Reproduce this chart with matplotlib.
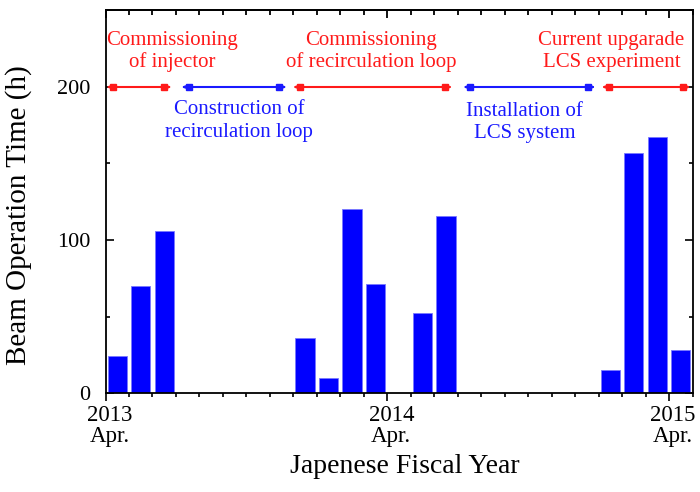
import matplotlib
matplotlib.use("Agg")
import matplotlib.pyplot as plt
from matplotlib.transforms import ScaledTranslation
import numpy as np

# Monthly beam operation time, starting April 2013 (month index 0)
month_index = list(range(25))
beam_hours = [24, 70, 106, 0, 0, 0, 0, 0, 36, 10, 120, 71,
              0, 52, 116, 0, 0, 0, 0, 0, 0, 15, 157, 167, 28]

tick_months = [0, 12, 24]
tick_labels = ["2013\nApr.", "2014\nApr.", "2015\nApr."]

# Project phases (month index spans) and their captions
phase_start = [0.0, 3.2, 7.95, 15.2, 21.1]
phase_end = [2.85, 7.75, 14.8, 20.9, 24.95]
phase_text = ["Commissioning\nof injector",
              "Construction of\nrecirculation loop",
              "Commissioning\nof recirculation loop",
              "Installation of\nLCS system",
              "Current upgarade\nLCS experiment"]
phase_level = 200

phase_colors = ["#ff1a1a", "#1a1aff", "#ff1a1a", "#1a1aff", "#ff1a1a"]
caption_x = [2.85, 5.7, 11.3, 17.85, 21.55]
caption_y = [(227.5, 213.3), (182.4, 167.3), (227.5, 213.3),
             (181.0, 166.5), (227.5, 213.3)]

plt.rcParams["font.family"] = ["Liberation Serif", "DejaVu Serif"]

fig = plt.figure(figsize=(7.0, 4.92), dpi=100)
ax = fig.add_axes([105.5 / 700, (492 - 393) / 492, 587 / 700, 382.5 / 492])

x = np.array(month_index) + 0.5
ax.bar(x, beam_hours, width=0.82, color="#0000ff", edgecolor="#7878ff",
       linewidth=0.6, zorder=2)

ax.set_xlim(0, 25)
ax.set_ylim(0, 250)

# phase arrows
inset = 0.34
for s, e, c in zip(phase_start, phase_end, phase_colors):
    ax.annotate("", xy=(e, phase_level), xytext=(s, phase_level),
                arrowprops=dict(arrowstyle="<|-|>,head_length=0.35,head_width=0.12",
                                color=c, lw=1.5, shrinkA=0, shrinkB=0),
                annotation_clip=False, zorder=3)
    ax.plot([s + inset, e - inset], [phase_level, phase_level], ls="none",
            marker="s", ms=4.5, color=c, zorder=4, clip_on=False)

for txt, cx, (y1, y2), c in zip(phase_text, caption_x, caption_y, phase_colors):
    l1, l2 = txt.split("\n")
    ax.text(cx, y1, l1, color=c, fontsize=15, ha="center", va="baseline")
    ax.text(cx, y2, l2, color=c, fontsize=15, ha="center", va="baseline")

# axes styling
for sp in ax.spines.values():
    sp.set_linewidth(1.3)

ax.set_xticks(tick_months)
ax.set_xticklabels(tick_labels, linespacing=1.0)
ax.set_xticks(np.arange(0, 26, 1), minor=True)
ax.set_yticks([0, 100, 200])
ax.set_yticks([50, 150, 250], minor=True)

ax.tick_params(axis="x", which="major", direction="out", length=5.8, width=1.2,
               labelsize=16.5, pad=3, top=False)
ax.tick_params(axis="x", which="minor", direction="out", length=3, width=1.2,
               top=False)
ax.tick_params(axis="y", which="major", direction="in", length=5.5, width=1.2,
               labelsize=16, pad=11, right=True)
ax.tick_params(axis="y", which="minor", direction="in", length=3, width=1.2,
               right=True)

# inward ticks along the top edge
top = ax.secondary_xaxis("top")
top.set_xticks(tick_months)
top.set_xticks(np.arange(0, 26, 1), minor=True)
top.tick_params(which="major", direction="in", length=5.8, width=1.3,
                color="black", labeltop=False)
top.tick_params(which="minor", direction="in", length=3.3, width=1.3,
                color="black")
top.spines["top"].set_linewidth(1.3)

offset = ScaledTranslation(4 / 100, 0, fig.dpi_scale_trans)
for lab in ax.get_xticklabels():
    lab.set_transform(lab.get_transform() + offset)

ax.set_ylabel("Beam Operation Time (h)", fontsize=21)
ax.yaxis.set_label_coords(-0.125, 0.465)
ax.set_xlabel("Japenese Fiscal Year", fontsize=20)
ax.xaxis.set_label_coords(0.51, -0.16)

fig.savefig("out.png", dpi=100)
